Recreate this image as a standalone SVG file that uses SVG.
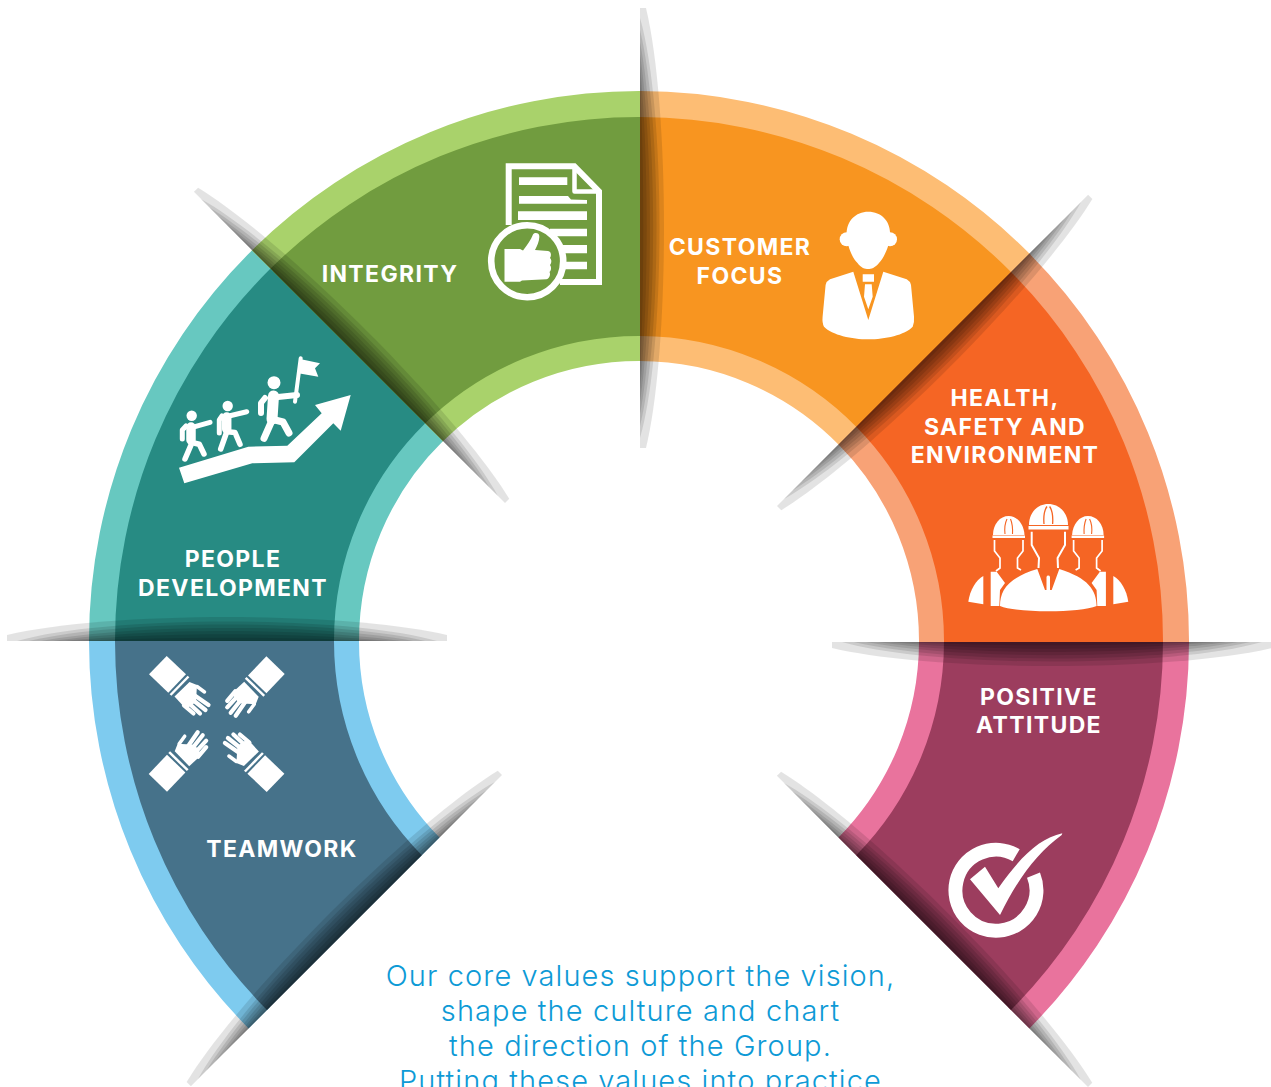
<svg xmlns="http://www.w3.org/2000/svg" xmlns:xlink="http://www.w3.org/1999/xlink" width="1271" height="1087" viewBox="0 0 1271 1087">
<style>
.lbl{font-family:"Inter","Liberation Sans",sans-serif;font-weight:700;font-size:23px;fill:#fff;text-anchor:middle;letter-spacing:1.35px}
.body{font-family:"Inter","Open Sans",sans-serif;font-weight:300;font-size:29px;fill:#0d9ad6;text-anchor:middle;letter-spacing:1.1px}
.w{fill:#fff}
.st{fill:none;stroke:#fff;stroke-linecap:round;stroke-linejoin:round}
.shade path{fill:#000;fill-opacity:.11}
</style>
<defs>
<g id="spindle" class="shade">
<path d="M0,0V6C100,30 340,30 440,6V0Z"/>
<path d="M10,0C100,26 340,26 430,0Z"/>
<path d="M22,0C112,22 328,22 418,0Z"/>
<path d="M34,0C124,17.500 316,17.500 406,0Z"/>
<path d="M46,0C136,13.300 304,13.300 394,0Z"/>
<path d="M58,0C148,8.900 292,8.900 382,0Z"/>
<path d="M70,0C160,4.400 280,4.400 370,0Z"/>
</g>
<g id="hand">
<path class="w" d="M166.700,656L186,674.300L168.300,692.700L149,674.300Z"/>
<path d="M188.500,676.500L170.500,695" fill="none" stroke="#fff" stroke-width="2.500"/>
<path class="w" d="M189.500,682L197,685L196,702L186,709L174.500,696.500Z"/>
<path class="st" stroke-width="3.500" d="M197,686.500L204.500,692"/>
<path class="st" stroke-width="4.200" d="M194,695L208.500,705M191,698.500L205.500,710M187.500,702L200,713.500M184,705.500L193.500,713.500"/>
</g>
<g id="sideworker">
<path class="w" d="M993,535C993,524 1000,516 1008.700,516C1017,516 1024,524 1024.500,535Z"/>
<rect class="w" x="992.500" y="535.500" width="32.500" height="2.500"/>
<path d="M1005,534Q1004,525 1007,519M1012.500,534Q1013,525 1010.500,519" fill="none" stroke="#f56524" stroke-width="1.100"/>
<path class="w" d="M968.300,601.700C970,590 976,580 983.300,576V604.300Z"/>
<path class="w" d="M990.700,571.700H996.700L1005,583L1000,590L999.300,606H990.700Z"/>
<path d="M994.500,540V551L1000,558V568L996,571" fill="none" stroke="#fff" stroke-width="1.700"/>
<path d="M1023,540V551L1017.500,558V568L1021,570" fill="none" stroke="#fff" stroke-width="1.700"/>
</g>
</defs>

<g id="integrity">
<path fill="#a9d26b" d="M250.900,251.400A550,550 0 0 1 641,91V121A520,520 0 0 0 272.100,272.600ZM420.500,421.100A310,310 0 0 1 641,331V361A280,280 0 0 0 441.800,442.300Z"/>
<path fill="#719c3f" d="M269.300,269.800A524,524 0 0 1 641,117V336A305,305 0 0 0 424,424.600Z"/>
<path class="st" style="stroke-linecap:butt;stroke-linejoin:miter" stroke-width="6" d="M508.700,225V166.300H574.300L599,191.500V282H560"/>
<path class="st" stroke-width="4.500" d="M574.500,167V191.500H598"/>
<path class="w" d="M519,177.300H567.300V185H519ZM519,196H568L571,199.500L587,200V203.700H519ZM518,211.300H587V220H518ZM550,228.700H587V236.300H550ZM550,245H587V253.300H550ZM550,261.700H587V269.300H550Z"/>
<circle cx="527.200" cy="261.200" r="36" fill="#719c3f" stroke="#fff" stroke-width="6.600"/>
<path class="w" d="M504.500,249H520L523,250.500C527,245 531,240 533,234.500C535,232 539.500,233 539.300,236.500C539.500,241 537,246 535,250L548,251C551.500,251.500 551.500,256 550,258C552,260 551.500,263 550,265C551.500,267 551.500,270 549.500,272C551,275 549,279 546.500,279.300L522,280.500L520,281.700H504.500Z"/>
<text class="lbl" x="390" y="282">INTEGRITY</text>
</g>

<g id="customer-focus">
<path fill="#fdbd74" d="M640,91A550,550 0 0 1 1030.400,254.600L1009.200,275.800A520,520 0 0 0 640,121ZM640,331A310,310 0 0 1 860.700,424.300L839.500,445.500A280,280 0 0 0 640,361Z"/>
<path fill="#f89520" d="M640,117A524,524 0 0 1 1012,273L857.200,427.800A305,305 0 0 0 640,336Z"/>
<circle class="w" cx="846.700" cy="239.300" r="7"/>
<circle class="w" cx="890" cy="239.300" r="7"/>
<path class="w" d="M868.300,211.700C882,211.700 891,222 890,235C890,245 884,258 879,263C875,268 871,269 868.300,269C865,269 861,268 857.500,263C852,258 847,245 846.700,235C846,222 855,211.700 868.300,211.700Z"/>
<path class="w" d="M853.300,271.700L868.300,320L883.300,271.700L906.700,279.300Q910,281 911,285L914,316.700Q914.500,323 912.700,326.700C905,335 885,339.300 868.300,339.300C852,339.300 832,335 824,326.700Q822,323 822.600,316.700L825.600,285Q826.600,281 830,279.300Z"/>
<path class="w" d="M862.700,274.300H874V281.700H862.700ZM865,284.300H871.700L872.700,296.700L868.300,309.300L864,296.700Z"/>
<text class="lbl" x="740" y="255">CUSTOMER</text>
<text class="lbl" x="740" y="284">FOCUS</text>
</g>

<g id="health-safety-environment">
<path fill="#f8a276" d="M1029.400,253.600A550,550 0 0 1 1189,643H1159A520,520 0 0 0 1008.200,274.800ZM859.700,423.300A310,310 0 0 1 949,643H919A280,280 0 0 0 838.500,444.500Z"/>
<path fill="#f56524" d="M1011,272A524,524 0 0 1 1163,643H944A305,305 0 0 0 856.200,426.800Z"/>
<use xlink:href="#sideworker" href="#sideworker"/>
<use xlink:href="#sideworker" href="#sideworker" transform="translate(2096.600,0) scale(-1,1)"/>
<path class="w" d="M1000,606C1000,590 1008,578 1037.300,569L1045,590H1046.500V577A1.800,1.800 0 0 1 1050,577V590H1051.700L1059.300,569C1088,578 1096.600,590 1096.600,606C1080,613 1017,613 1000,606Z"/>
<path class="w" d="M1029,525C1029,513 1037,504 1048.300,504C1059.500,504 1068,513 1068,525Z"/>
<rect class="w" x="1028.500" y="526" width="40" height="3.500"/>
<path d="M1044,524Q1043,512 1047,506.500M1052.600,524Q1053.500,512 1049.600,506.500" fill="none" stroke="#f56524" stroke-width="1.300"/>
<path d="M1031.700,531.700V545L1039,558L1038.500,568M1065,531.700V545L1057.600,558L1058,568" fill="none" stroke="#fff" stroke-width="2"/>
<text class="lbl" x="1005" y="406">HEALTH,</text>
<text class="lbl" x="1005" y="435">SAFETY AND</text>
<text class="lbl" x="1005" y="463">ENVIRONMENT</text>
</g>

<g id="positive-attitude">
<path fill="#e9739d" d="M1189,642A550,550 0 0 1 1029.400,1028.400L1008.200,1007.200A520,520 0 0 0 1159,642ZM949,642A310,310 0 0 1 859.700,858.700L838.500,837.500A280,280 0 0 0 919,642Z"/>
<path fill="#9c3d5e" d="M1163,642A524,524 0 0 1 1011,1010L856.200,855.200A305,305 0 0 0 944,642Z"/>
<path d="M1033.500,875.100A40.500,40.500 0 1 1 1016.200,855.200" fill="none" stroke="#fff" stroke-width="14"/>
<path class="w" d="M970,879.300L985,866.700L998.300,888.300C1020,857 1040,838 1062.300,833.300L1061.700,835C1037,853 1017,880 1000,915Z"/>
<text class="lbl" x="1039" y="705">POSITIVE</text>
<text class="lbl" x="1039" y="733">ATTITUDE</text>
</g>

<g id="teamwork">
<path fill="#7ecbef" d="M89,640A550,550 0 0 0 248.600,1028.400L269.800,1007.200A520,520 0 0 1 119,640ZM329,640A310,310 0 0 0 418.300,858.700L439.500,837.500A280,280 0 0 1 359,640Z"/>
<path fill="#46728a" d="M115,640A524,524 0 0 0 267,1010L421.800,855.200A305,305 0 0 1 334,640Z"/>
<use xlink:href="#hand" href="#hand"/>
<use xlink:href="#hand" href="#hand" transform="rotate(90 216.700 724)"/>
<use xlink:href="#hand" href="#hand" transform="rotate(180 216.700 724)"/>
<use xlink:href="#hand" href="#hand" transform="rotate(270 216.700 724)"/>
<text class="lbl" x="282" y="857">TEAMWORK</text>
</g>

<g id="people-development">
<path fill="#67c8c0" d="M89,641A550,550 0 0 1 251.900,250.400L273.100,271.600A520,520 0 0 0 119,641ZM421.500,420.100A310,310 0 0 0 329,641H359A280,280 0 0 1 442.800,441.300Z"/>
<path fill="#278b83" d="M115,641A524,524 0 0 1 270.300,268.800L425,423.600A305,305 0 0 0 334,641Z"/>
<path class="w" d="M179,467.700L248.300,446.700L287.300,445.700L321.700,413.300L315,405L350.700,395L340.700,430.700L333.300,423.300L294.300,462.300L252.300,463.300L184.300,483.300Z"/>
<path class="w" d="M300,359L320,363.300L315,368.300L318.300,376.700L298.300,373.300Z"/>
<path class="st" stroke-width="4" d="M300.700,358.300L295,401.700"/>
<circle class="w" cx="274" cy="382.700" r="6.500"/>
<path class="st" stroke-width="11" d="M273.500,396L272,419"/>
<path class="st" stroke-width="6" d="M265,398L261,403V413M278,397L297,395"/>
<path class="st" stroke-width="7" d="M271.700,421L264,438.300M275,420L283,422L289,433"/>
<circle class="w" cx="227.700" cy="406" r="5.200"/>
<path class="st" stroke-width="9.500" d="M226.700,417L226.700,429"/>
<path class="st" stroke-width="5" d="M222,416L219.300,420V433M230,415.700L246.700,411.700"/>
<path class="st" stroke-width="5.500" d="M226.700,432L220.700,449M230,432L235,432.500L240,444.300"/>
<circle class="w" cx="191.700" cy="415.700" r="5.200"/>
<path class="st" stroke-width="9.500" d="M191,427L191,440"/>
<path class="st" stroke-width="5" d="M186,426L182.300,430V439M195,426.700L210,422.300"/>
<path class="st" stroke-width="5.500" d="M191.700,443.300L185,459M195,443.300L199.300,444.300L204,454"/>
<text class="lbl" x="233" y="567">PEOPLE</text>
<text class="lbl" x="233" y="596">DEVELOPMENT</text>
</g>

<g id="connectors">
<use xlink:href="#spindle" href="#spindle" transform="translate(640,448) rotate(-90)"/>
<use xlink:href="#spindle" href="#spindle" transform="translate(447,641) rotate(180)"/>
<use xlink:href="#spindle" href="#spindle" transform="translate(832,642)"/>
<use xlink:href="#spindle" href="#spindle" transform="translate(505,503) rotate(225)"/>
<use xlink:href="#spindle" href="#spindle" transform="translate(777,506) rotate(-45)"/>
<use xlink:href="#spindle" href="#spindle" transform="translate(502,775) rotate(135)"/>
<use xlink:href="#spindle" href="#spindle" transform="translate(1088,1087) rotate(225)"/>
</g>

<g id="statement">
<text class="body" x="640.500" y="986">Our core values support the vision,</text>
<text class="body" x="640.500" y="1021">shape the culture and chart</text>
<text class="body" x="640.500" y="1056">the direction of the Group.</text>
<text class="body" x="640.500" y="1091">Putting these values into practice</text>
</g>
</svg>
